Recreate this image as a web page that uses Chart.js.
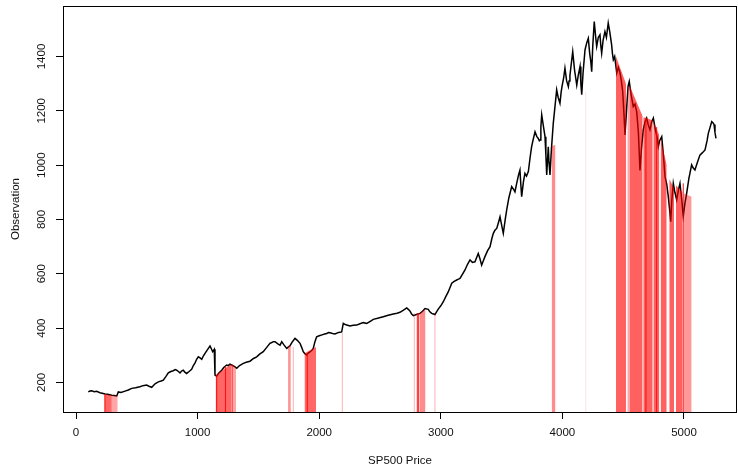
<!DOCTYPE html>
<html>
<head>
<meta charset="utf-8">
<script src="https://cdn.jsdelivr.net/npm/chart.js@4.4.1/dist/chart.umd.min.js"></script>
<style>
  html, body { margin: 0; padding: 0; background: #fff; }
  #wrap { width: 738px; height: 470px; position: relative; }
</style>
</head>
<body>
<div id="wrap"><canvas id="chart"></canvas></div>
<script>
"use strict";

const xTicks = [0, 1000, 2000, 3000, 4000, 5000];
const yTicks = [200, 400, 600, 800, 1000, 1200, 1400];

// black price path (index, price)
const priceIdx = [
  101, 115, 129, 150, 170, 197, 215, 238, 260, 294, 315, 335, 348, 370, 403, 430, 458, 490, 526, 550,
  581, 600, 623, 650, 677, 700, 718, 740, 759, 780, 800, 815, 828, 842, 855, 868, 882, 895, 910, 930,
  951, 965, 979, 992, 1006, 1020, 1034, 1048, 1061, 1080, 1102, 1112, 1124, 1131, 1137, 1143, 1157, 1175, 1198, 1215,
  1239, 1252, 1266, 1290, 1308, 1322, 1345, 1376, 1400, 1431, 1460, 1486, 1510, 1540, 1570, 1595, 1610, 1623, 1637, 1660,
  1678, 1692, 1710, 1733, 1745, 1760, 1780, 1801, 1820, 1842, 1855, 1869, 1882, 1897, 1910, 1924, 1940, 1951, 1965, 1979,
  2000, 2023, 2045, 2062, 2075, 2089, 2110, 2130, 2160, 2185, 2198, 2220, 2253, 2280, 2308, 2335, 2363, 2391, 2420, 2445,
  2480, 2527, 2560, 2609, 2640, 2664, 2690, 2720, 2735, 2747, 2760, 2774, 2800, 2829, 2850, 2870, 2897, 2910, 2925, 2940,
  2952, 2965, 2979, 3000, 3021, 3040, 3062, 3090, 3110, 3131, 3145, 3158, 3180, 3199, 3220, 3240, 3260, 3281, 3295, 3308,
  3322, 3336, 3350, 3363, 3385, 3405, 3420, 3432, 3445, 3460, 3475, 3487, 3500, 3514, 3530, 3542, 3560, 3583, 3600, 3610,
  3625, 3640, 3651, 3658, 3665, 3680, 3692, 3705, 3720, 3735, 3747, 3760, 3775, 3790, 3799, 3810, 3816, 3823, 3830, 3845,
  3857, 3864, 3871, 3878, 3884, 3890, 3898, 3910, 3925, 3940, 3953, 3965, 3980, 3990, 3997, 4010, 4021, 4035, 4049, 4055,
  4062, 4075, 4085, 4100, 4110, 4118, 4130, 4145, 4152, 4159, 4170, 4186, 4200, 4213, 4225, 4234, 4241, 4250, 4262, 4272,
  4282, 4295, 4309, 4316, 4323, 4335, 4350, 4362, 4377, 4390, 4405, 4412, 4419, 4430, 4447, 4460, 4474, 4485, 4496, 4505,
  4515, 4530, 4540, 4550, 4565, 4583, 4597, 4611, 4625, 4638, 4650, 4665, 4680, 4693, 4705, 4720, 4735, 4748, 4765, 4780,
  4789, 4800, 4817, 4830, 4844, 4858, 4871, 4881, 4891, 4900, 4912, 4925, 4940, 4955, 4967, 4980, 4994, 5008, 5022, 5040,
  5063, 5075, 5090, 5110, 5131, 5150, 5173, 5190, 5200, 5215, 5228, 5240, 5247, 5255, 5263
];
const priceVal = [
  165, 168, 169, 166, 167, 162, 160, 157, 156, 153, 152, 150, 165, 163, 168, 172, 178, 180, 184, 188,
  190, 186, 182, 195, 202, 205, 208, 222, 235, 240, 243, 247, 245, 240, 235, 242, 245, 238, 233, 240,
  248, 262, 272, 285, 294, 290, 285, 298, 307, 320, 334, 325, 313, 318, 322, 227, 223, 235, 245, 255,
  264, 262, 267, 262, 257, 252, 262, 270, 274, 278, 288, 294, 304, 313, 330, 344, 347, 350, 350, 342,
  337, 350, 338, 325, 330, 335, 350, 362, 355, 344, 330, 313, 306, 301, 308, 312, 318, 325, 350, 368,
  372, 375, 378, 380, 384, 383, 380, 378, 384, 386, 417, 412, 408, 410, 411, 416, 420, 417, 425, 432,
  436, 442, 446, 452, 455, 458, 465, 474, 468, 462, 452, 446, 450, 454, 462, 472, 469, 460, 454, 452,
  450, 460, 470, 482, 497, 515, 534, 565, 572, 577, 580, 583, 600, 614, 635, 651, 642, 644, 660, 675,
  655, 632, 648, 663, 685, 700, 730, 749, 760, 767, 790, 810, 780, 749, 800, 835, 880, 921, 910, 902,
  935, 965, 982, 930, 884, 940, 970, 960, 976, 1030, 1068, 1095, 1123, 1105, 1100, 1090, 1093, 1140, 1185, 1140,
  1105, 1040, 964, 1020, 1068, 1010, 964, 1060, 1154, 1220, 1277, 1250, 1228, 1270, 1290, 1320, 1357, 1310, 1289, 1310,
  1330, 1380, 1418, 1350, 1320, 1295, 1330, 1363, 1300, 1259, 1340, 1424, 1450, 1467, 1410, 1380, 1344, 1440, 1529, 1480,
  1437, 1470, 1480, 1440, 1412, 1460, 1492, 1470, 1523, 1490, 1443, 1410, 1388, 1400, 1339, 1360, 1340, 1310, 1271, 1200,
  1111, 1220, 1290, 1308, 1260, 1216, 1225, 1197, 1120, 980, 1060, 1130, 1160, 1173, 1150, 1130, 1160, 1173, 1130, 1100,
  1068, 1090, 1105, 1040, 958, 930, 884, 840, 792, 870, 933, 900, 872, 910, 933, 880, 812, 860, 896, 950,
  1001, 990, 982, 1010, 1037, 1045, 1056, 1090, 1117, 1140, 1160, 1155, 1150, 1120, 1099
];

// red shaded regimes: start/end index, top at start/end, opacity
const bandStart    = [233, 294, 1148, 1283, 1744, 1879, 2825, 3912, 4441, 4534, 4556, 4660, 4671, 4748, 4808, 4879, 4934, 5000];
const bandEnd      = [285, 343, 1275, 1316, 1768, 1974, 2874, 3943, 4523, 4556, 4660, 4671, 4743, 4797, 4858, 4918, 4989, 5063];
const bandTopStart = [157, 153, 227, 265, 335, 307, 455, 1070, 1400, 1290, 1290, 1175, 1175, 1160, 1100, 950, 925, 896];
const bandTopEnd   = [153, 151, 267, 255, 335, 330, 470, 1075, 1300, 1290, 1180, 1175, 1165, 1110, 1000, 915, 900, 884];
const bandAlpha    = [0.6, 0.35, 0.6, 0.35, 0.3, 0.6, 0.45, 0.45, 0.62, 0.35, 0.62, 0.35, 0.62, 0.62, 0.62, 0.62, 0.62, 0.4];

// single red segments
const spikeIdx   = [238, 288, 1157, 1229, 1283, 1902, 2807, 2818, 4687, 4775, 4994, 1752, 1787, 2190, 2782, 2952, 4192];
const spikeTop   = [157, 153, 227, 258, 267, 305, 455, 455, 1175, 1140, 933, 335, 330, 382, 455, 454, 1270];
const spikeAlpha = [0.9, 0.9, 0.9, 0.9, 0.9, 0.9, 0.9, 0.9, 0.9, 0.9, 0.9, 0.3, 0.3, 0.3, 0.3, 0.3, 0.12];
const SPIKE_BASE = 0;

const FONT = { family: "'Liberation Sans', Arial, Helvetica, sans-serif", size: 11.5 };
const INK = "#111";

const datasets = [];

spikeIdx.forEach((x, i) => {
  datasets.push({
    type: "line",
    data: [{ x, y: SPIKE_BASE }, { x, y: spikeTop[i] }],
    borderColor: `rgba(255, 0, 0, ${spikeAlpha[i]})`,
    borderWidth: 1,
    pointRadius: 0,
    fill: false,
    clip: 0,
    order: 0,
  });
});

bandStart.forEach((x, i) => {
  datasets.push({
    type: "line",
    data: [{ x, y: bandTopStart[i] }, { x: bandEnd[i], y: bandTopEnd[i] }],
    borderWidth: 0,
    borderColor: "rgba(0,0,0,0)",
    backgroundColor: `rgba(255, 0, 0, ${bandAlpha[i]})`,
    pointRadius: 0,
    fill: "start",
    order: 1,
  });
});

datasets.push({
  type: "line",
  data: priceIdx.map((x, i) => ({ x, y: priceVal[i] })),
  borderColor: "#000",
  borderWidth: 1.5,
  pointRadius: 0,
  tension: 0,
  fill: false,
  order: 2,
});

const rPlot = {
  id: "rPlot",
  afterDraw(chart) {
    const { ctx, chartArea: a, scales } = chart;
    ctx.save();
    ctx.strokeStyle = "#000";
    ctx.lineWidth = 1;
    ctx.strokeRect(Math.round(a.left) + 0.5, Math.round(a.top) + 0.5,
      Math.round(a.right - a.left) - 1, Math.round(a.bottom - a.top));
    // rotated y tick labels, as R draws them
    ctx.fillStyle = INK;
    ctx.font = `${FONT.size}px ${FONT.family}`;
    ctx.textAlign = "center";
    ctx.textBaseline = "middle";
    yTicks.forEach(v => {
      const y = scales.y.getPixelForValue(v);
      ctx.save();
      ctx.translate(a.left - 21, y);
      ctx.rotate(-Math.PI / 2);
      ctx.fillText(String(v), 0, 0);
      ctx.restore();
    });
    ctx.restore();
  },
};

new Chart(document.getElementById("chart"), {
  type: "line",
  data: { datasets },
  plugins: [rPlot],
  options: {
    responsive: true,
    maintainAspectRatio: false,
    animation: false,
    layout: { padding: { top: 6, right: 1, left: 0, bottom: 0 } },
    plugins: { legend: { display: false }, tooltip: { enabled: false } },
    scales: {
      x: {
        type: "linear",
        min: -107,
        max: 5436,
        afterFit: s => { s.height = 58; },
        afterBuildTicks: s => { s.ticks = xTicks.map(value => ({ value })); },
        grid: { drawOnChartArea: false, drawTicks: true, tickLength: 7, color: "#000" },
        border: { display: false },
        ticks: { color: INK, font: FONT, padding: 7, maxRotation: 0, autoSkip: false, callback: v => String(v) },
        title: { display: true, text: "SP500 Price", color: INK, font: FONT, padding: { top: 0, bottom: 2 } },
      },
      y: {
        type: "linear",
        min: 91,
        max: 1586,
        afterFit: s => { s.width = 63; },
        afterBuildTicks: s => { s.ticks = yTicks.map(value => ({ value })); },
        grid: { drawOnChartArea: false, drawTicks: true, tickLength: 7, color: "#000" },
        border: { display: false },
        ticks: { display: false },
        title: { display: true, text: "Observation", color: INK, font: FONT, padding: { top: 9, bottom: 0 } },
      },
    },
  },
});
</script>
</body>
</html>
